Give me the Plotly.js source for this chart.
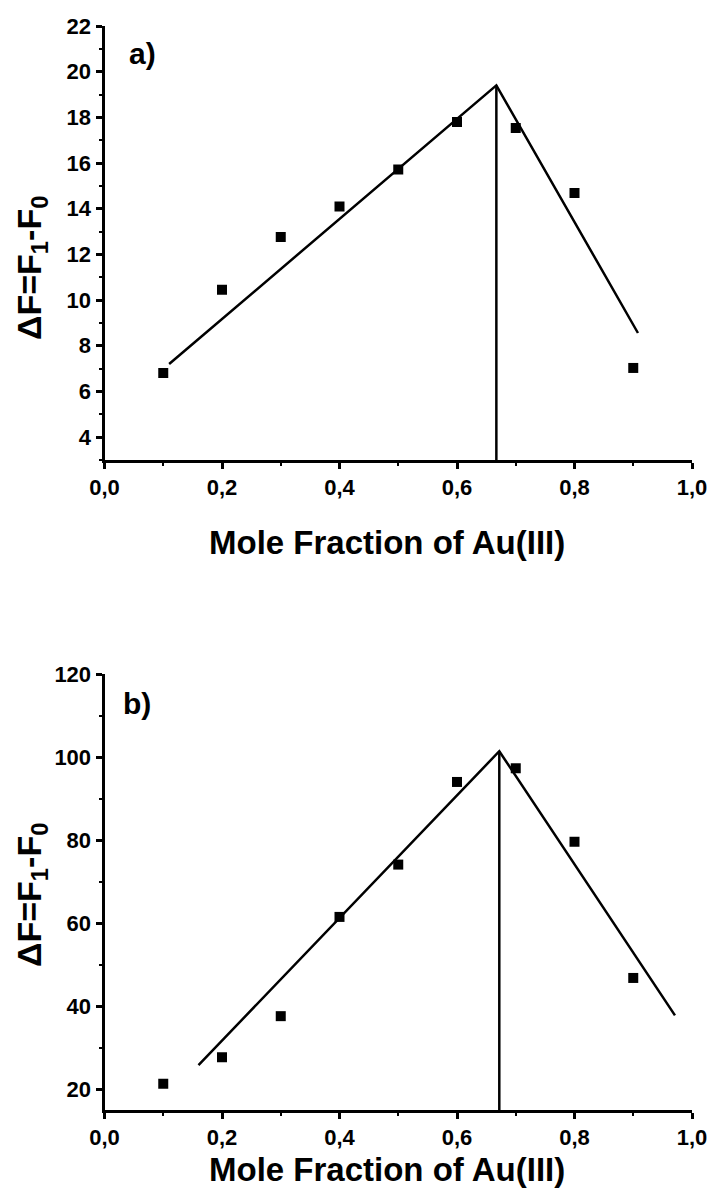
<!DOCTYPE html>
<html>
<head>
<meta charset="utf-8">
<script src="https://cdn.plot.ly/plotly-3.0.1.min.js"></script>
<style>
  html, body { margin: 0; padding: 0; background: #fff; }
  #chart { width: 713px; height: 1189px; }
</style>
</head>
<body>
<div id="chart"></div>
<script>
// Job's plot: fluorescence change versus mole fraction of Au(III)
const moleFraction = [0.1, 0.2, 0.3, 0.4, 0.5, 0.6, 0.7, 0.8, 0.9];

// panel a) measured ΔF
const deltaFA = [6.81, 10.45, 12.76, 14.1, 15.72, 17.8, 17.54, 14.69, 7.03];
// panel a) fitted branches meeting at the stoichiometric point
const fitAX = [0.11, 0.667, 0.908];
const fitAY = [7.2, 19.4, 8.56];
const peakAX = [0.667, 0.667];
const peakAY = [3, 19.4];

// panel b) measured ΔF
const deltaFB = [21.3, 27.7, 37.6, 61.5, 74.1, 94.0, 97.3, 79.6, 46.8];
const fitBX = [0.16, 0.672, 0.971];
const fitBY = [25.8, 101.4, 37.8];
const peakBX = [0.672, 0.672];
const peakBY = [15, 101.4];

// tick positions
const xTicks = [0, 0.2, 0.4, 0.6, 0.8, 1.0];
const yTicksA = [4, 6, 8, 10, 12, 14, 16, 18, 20, 22];
const yTicksB = [20, 40, 60, 80, 100, 120];

const panelLabels = ['a)', 'b)'];
const xTitle = 'Mole Fraction of Au(III)';
const yTitle = 'ΔF=F<sub>1</sub>-F<sub>0</sub>';

const W = 713, H = 1189;
const FONT = 'Arial, "Liberation Sans", sans-serif';
const px = v => v / W;
const py = v => 1 - v / H;

// comma as decimal separator, bold labels
const fmtX = v => '<b>' + v.toFixed(1).replace('.', ',') + '</b>';
const fmtY = v => '<b>' + String(v) + '</b>';

const markerStyle = { symbol: 'square', size: 10, color: '#000' };
const lineStyle = { color: '#000', width: 2.5 };

const traces = [
  { x: moleFraction, y: deltaFA, mode: 'markers', marker: markerStyle, xaxis: 'x', yaxis: 'y' },
  { x: fitAX, y: fitAY, mode: 'lines', line: lineStyle, xaxis: 'x', yaxis: 'y' },
  { x: peakAX, y: peakAY, mode: 'lines', line: lineStyle, xaxis: 'x', yaxis: 'y' },
  { x: moleFraction, y: deltaFB, mode: 'markers', marker: markerStyle, xaxis: 'x2', yaxis: 'y2' },
  { x: fitBX, y: fitBY, mode: 'lines', line: lineStyle, xaxis: 'x2', yaxis: 'y2' },
  { x: peakBX, y: peakBY, mode: 'lines', line: lineStyle, xaxis: 'x2', yaxis: 'y2' }
];

const tickFont = { family: FONT, size: 22, color: '#000' };

function xAxis(anchor) {
  return {
    anchor: anchor,
    domain: [px(104.5), px(692)],
    range: [0, 1.0],
    tickmode: 'array',
    tickvals: xTicks,
    ticktext: xTicks.map(fmtX),
    ticks: 'outside', ticklen: 6, tickwidth: 3, tickcolor: '#000',
    minor: { dtick: 0.1, tick0: 0, ticks: 'outside', ticklen: 3, tickwidth: 2, tickcolor: '#000' },
    showline: true, linecolor: '#000', linewidth: 3,
    showgrid: false, zeroline: false,
    tickfont: tickFont,
    fixedrange: true
  };
}
function yAxis(anchor, dom, rng, ticks, mdt) {
  return {
    anchor: anchor,
    domain: dom,
    range: rng,
    tickmode: 'array',
    tickvals: ticks,
    ticktext: ticks.map(fmtY),
    ticks: 'outside', ticklen: 6, tickwidth: 3, tickcolor: '#000',
    minor: { dtick: mdt, tick0: 0, ticks: 'outside', ticklen: 3, tickwidth: 2, tickcolor: '#000' },
    showline: true, linecolor: '#000', linewidth: 3,
    showgrid: false, zeroline: false,
    tickfont: tickFont,
    fixedrange: true
  };
}

const titleFont = { family: FONT, size: 33, color: '#000', weight: 'bold' };
const yTitleFont = { family: FONT, size: 34, color: '#000', weight: 'bold' };
const panelFont = { family: FONT, size: 30, color: '#000', weight: 'bold' };

function note(text, x, y, font, angle) {
  return {
    text: text, xref: 'paper', yref: 'paper', x: px(x), y: py(y),
    xanchor: 'center', yanchor: 'middle', textangle: angle || 0,
    showarrow: false, font: font
  };
}

const layout = {
  width: W, height: H,
  margin: { l: 0, r: 0, t: 0, b: 0 },
  paper_bgcolor: '#fff', plot_bgcolor: '#fff',
  showlegend: false,
  xaxis: xAxis('y'),
  yaxis: yAxis('x', [py(460), py(26)], [3, 22], yTicksA, 1),
  xaxis2: xAxis('y2'),
  yaxis2: yAxis('x2', [py(1110), py(674)], [15, 120], yTicksB, 10),
  annotations: [
    note(panelLabels[0], 142, 54, panelFont),
    note(panelLabels[1], 137, 703, panelFont),
    note(xTitle, 387, 542, titleFont),
    note(xTitle, 387, 1169, titleFont),
    note(yTitle, 31, 268, yTitleFont, -90),
    note(yTitle, 31, 895, yTitleFont, -90)
  ]
};

Plotly.newPlot('chart', traces, layout, { displayModeBar: false, staticPlot: true });
</script>
</body>
</html>
